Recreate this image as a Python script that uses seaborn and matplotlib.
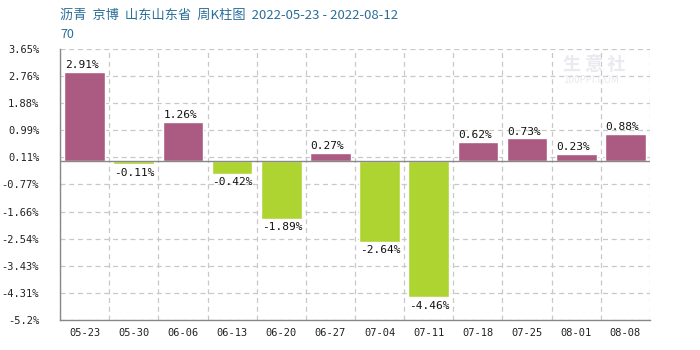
import matplotlib
matplotlib.use("Agg")
import matplotlib.pyplot as plt
import seaborn as sns
import pandas as pd
import numpy as np

weeks = ["05-23", "05-30", "06-06", "06-13", "06-20", "06-27",
         "07-04", "07-11", "07-18", "07-25", "08-01", "08-08"]
changes = [2.91, -0.11, 1.26, -0.42, -1.89, 0.27,
           -2.64, -4.46, 0.62, 0.73, 0.23, 0.88]
y_ticks = [3.65, 2.76, 1.88, 0.99, 0.11, -0.77, -1.66, -2.54, -3.43, -4.31, -5.2]
y_tick_labels = ["3.65%", "2.76%", "1.88%", "0.99%", "0.11%", "-0.77%",
                 "-1.66%", "-2.54%", "-3.43%", "-4.31%", "-5.2%"]
title_text = "沥青  京博  山东山东省  周K柱图  2022-05-23 - 2022-08-12"
subtitle_text = "70"

UP = "#AB5A82"
DOWN = "#AED432"

sns.set_theme(style="white")
plt.rcParams["font.family"] = ["Noto Sans CJK SC", "DejaVu Sans"]

df = pd.DataFrame({"week": weeks, "change": changes})
df["dir"] = np.where(df["change"] >= 0, "up", "down")

fig = plt.figure(figsize=(7, 3.5), dpi=100)
ax = fig.add_axes([60 / 700, 30 / 350, 590 / 700, 271 / 350])

sns.barplot(data=df, x="week", y="change", hue="dir",
            palette={"up": UP, "down": DOWN}, dodge=False,
            width=0.83, legend=False, ax=ax, saturation=1)

ax.set_ylim(-5.2, 3.65)
ax.set_xlim(-0.5, len(weeks) - 0.5)
ax.set_yticks(y_ticks)
ax.set_yticklabels(y_tick_labels)
ax.set_xlabel("")
ax.set_ylabel("")

mono = "DejaVu Sans Mono"
for lab in ax.get_yticklabels() + ax.get_xticklabels():
    lab.set_fontfamily(mono)
    lab.set_fontsize(7.5)
    lab.set_color("#222222")
ax.tick_params(axis="x", length=0, pad=6)
ax.tick_params(axis="y", length=0, pad=15)

# dashed grid: horizontal at ticks, vertical between categories
for y in y_ticks:
    ax.axhline(y, color="#c8c8c8", ls=(0, (4, 3)), lw=0.9, zorder=0)
for i in range(len(weeks) + 1):
    ax.axvline(i - 0.5, color="#c8c8c8", ls=(0, (4, 3)), lw=0.9, zorder=0)
ax.axhline(0, color="#888888", lw=1.0, zorder=3)

for s in ["top", "right"]:
    ax.spines[s].set_visible(False)
for s in ["left", "bottom"]:
    ax.spines[s].set_color("#888888")
    ax.spines[s].set_linewidth(1.0)

# value labels
for i, v in enumerate(changes):
    txt = f"{v:.2f}%"
    if v >= 0:
        ax.text(i - 0.40, v + 0.06, txt, ha="left", va="bottom",
                fontsize=8, family=mono, color="#111111")
    else:
        ax.text(i - 0.40, v - 0.12, txt, ha="left", va="top",
                fontsize=8, family=mono, color="#111111")

# faint watermark
fig.text(563 / 700, 1 - 64 / 350, "生 意 社", fontsize=13, color="#ebe8ee",
         fontweight="bold", va="center", zorder=0)
fig.text(563 / 700, 1 - 80 / 350, "100PPI.COM", fontsize=7, color="#ebe8ee",
         va="center", zorder=0)

fig.text(60 / 700, 1 - 15 / 350, title_text, fontsize=9.5,
         color="#2B6E99", va="center", ha="left")
fig.text(60 / 700, 1 - 35 / 350, subtitle_text, fontsize=9,
         color="#2B6E99", va="center", ha="left")

fig.savefig("out.png", dpi=100)
